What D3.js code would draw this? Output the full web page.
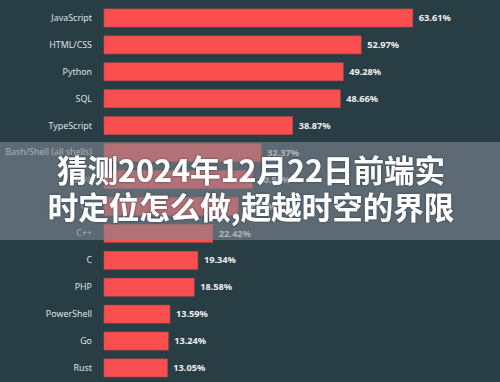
<!DOCTYPE html>
<html><head><meta charset="utf-8">
<script src="https://cdn.jsdelivr.net/npm/d3@7"></script>
<style>html,body{margin:0;padding:0;background:#283d44;overflow:hidden}</style>
</head><body>
<svg id="c" width="500" height="382"></svg>
<script>
const languages = ["JavaScript","HTML/CSS","Python","SQL","TypeScript","Bash/Shell (all shells)","Java","C#","C++","C","PHP","PowerShell","Go","Rust"];
const shares = [63.61,52.97,49.28,48.66,38.87,32.37,30.55,27.62,22.42,19.34,18.58,13.59,13.24,13.05];
const titleLines = ["猜测2024年12月22日前端实","时定位怎么做,超越时空的界限"];

const svg = d3.select("#c");
svg.append("rect").attr("width",500).attr("height",382).attr("fill","#283d44");

const x = d3.scaleLinear().domain([0,70]).range([104,104+70*4.855]);
const y = d3.scaleBand().domain(languages).range([4.5,381.4]).paddingInner(0.33).paddingOuter(0.165);

const rows = languages.map((l,i)=>({l, v:shares[i]}));

svg.selectAll("rect.bar").data(rows).join("rect")
  .attr("class","bar")
  .attr("x",x(0)).attr("y",d=>y(d.l))
  .attr("width",d=>x(d.v)-x(0)).attr("height",y.bandwidth())
  .attr("fill","#f94f4f").attr("stroke","#b84a4c").attr("stroke-width",0.6);

const yAxis = d3.axisLeft(y).tickSize(0).tickPadding(0);
const ag = svg.append("g").attr("transform",`translate(${x(0)-12},0)`).call(yAxis);
ag.select(".domain").remove();
ag.selectAll("text").attr("fill","#dfe3e4").attr("font-family","'Noto Sans', sans-serif").attr("font-size",8.9);

svg.selectAll("text.val").data(rows).join("text")
  .attr("class","val")
  .attr("x",d=>x(d.v)+6).attr("y",d=>y(d.l)+y.bandwidth()/2)
  .attr("dy","0.35em")
  .attr("fill","#eef0f0").attr("font-family","'Noto Sans', sans-serif")
  .attr("font-weight",700).attr("font-size",9.2)
  .text(d=>d.v.toFixed(2)+"%");

// overlay banner
svg.append("rect").attr("x",0).attr("y",142).attr("width",500).attr("height",98)
  .attr("fill","rgb(128,137,146)").attr("fill-opacity",0.6);

const defs = svg.append("defs");
const f = defs.append("filter").attr("id","sh").attr("x","-10%").attr("y","-30%").attr("width","120%").attr("height","160%");
f.append("feDropShadow").attr("dx",0).attr("dy",0).attr("stdDeviation",1.2).attr("flood-color","#1c2a30").attr("flood-opacity",0.7);

svg.append("g").attr("filter","url(#sh)").selectAll("text.t").data(titleLines).join("text")
  .attr("class","t")
  .attr("x",251).attr("y",(d,i)=>182+i*37)
  .attr("text-anchor","middle")
  .attr("fill","#ffffff").attr("font-family","'Noto Sans CJK SC', sans-serif")
  .attr("font-weight",700).attr("font-size",30.5)
  .text(d=>d);
</script>
</body></html>
